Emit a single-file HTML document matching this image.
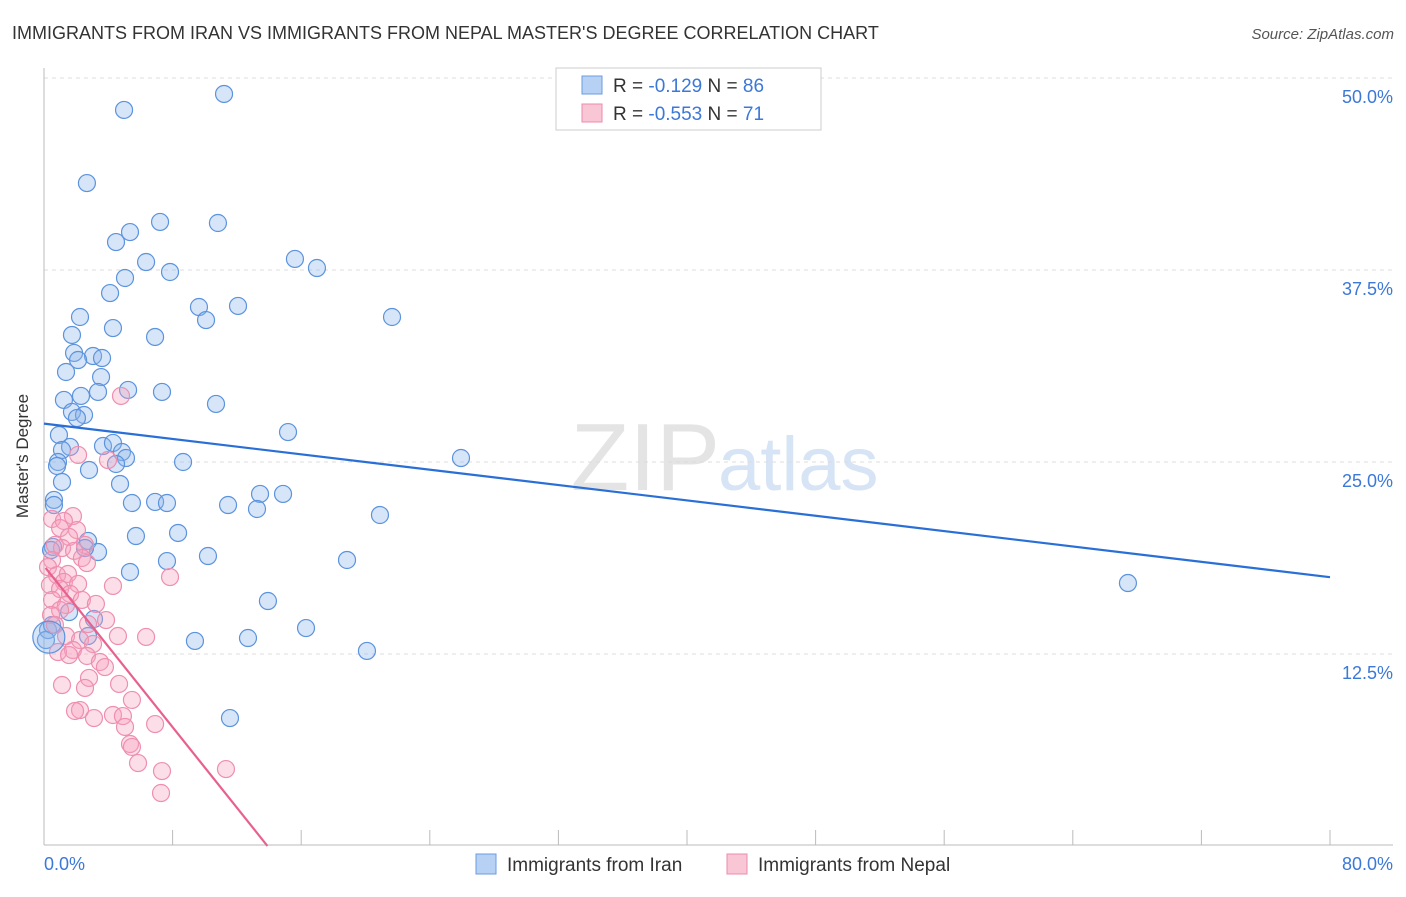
<!DOCTYPE html>
<html><head><meta charset="utf-8"><style>
body{margin:0;background:#fff;font-family:"Liberation Sans",sans-serif}
svg text{font-family:"Liberation Sans",sans-serif}
</style></head><body>
<svg width="1406" height="892" viewBox="0 0 1406 892" xmlns="http://www.w3.org/2000/svg">
<text x="12" y="39" font-size="18" fill="#333">IMMIGRANTS FROM IRAN VS IMMIGRANTS FROM NEPAL MASTER'S DEGREE CORRELATION CHART</text>
<text x="1394" y="39" font-size="15" fill="#555" text-anchor="end" font-style="italic">Source: ZipAtlas.com</text>
<text x="720" y="490" font-size="96" fill="#e4e4e4" text-anchor="end" font-family="Liberation Serif">ZIP</text>
<text x="718" y="490" font-size="76" fill="#d6e4f5">atlas</text>
<g id="grid"></g>
<line x1="44" y1="68" x2="44" y2="845" stroke="#bbb"/>
<line x1="44" y1="845" x2="1393" y2="845" stroke="#bbb"/>
<g id="xticks"></g>
<text x="28" y="456" font-size="17" fill="#333" text-anchor="middle" transform="rotate(-90 28 456)">Master's Degree</text>
<text x="44" y="870" font-size="18" fill="#3b78d8">0.0%</text>
<text x="1393" y="870" font-size="18" fill="#3b78d8" text-anchor="end">80.0%</text>
<g id="pts"></g>
<g id="lines"></g>
<g>
<rect x="556" y="68" width="265" height="62" fill="#fff" stroke="#ccc"/>
<rect x="582" y="76" width="20" height="18" fill="#b7d1f5" stroke="#6a9be0"/>
<rect x="582" y="104" width="20" height="18" fill="#f9c6d6" stroke="#ec8bab"/>
<text x="613" y="92" font-size="19" fill="#333">R = <tspan fill="#3b78d8">-0.129</tspan>   N = <tspan fill="#3b78d8">86</tspan></text>
<text x="613" y="120" font-size="19" fill="#333">R = <tspan fill="#3b78d8">-0.553</tspan>   N = <tspan fill="#3b78d8"> 71</tspan></text>
</g>
<g><rect x="476" y="854" width="20" height="20" fill="#b7d1f5" stroke="#6a9be0"/><text x="507" y="871" font-size="19" fill="#333">Immigrants from Iran</text></g>
<g><rect x="727" y="854" width="20" height="20" fill="#f9c6d6" stroke="#ec8bab"/><text x="758" y="871" font-size="19" fill="#333">Immigrants from Nepal</text></g>
</svg>
<script>
const yTicks=[12.5,25,37.5,50];
const yTickLabels=["12.5%","25.0%","37.5%","50.0%"];
const xTicks=[0,8,16,24,32,40,48,56,64,72,80];
const iranPx=[[124,110],[224,94],[87,183],[160,222],[218,223],[116,242],[130,232],[146,262],[170,272],[125,278],[110,293],[295,259],[317,268],[199,307],[238,306],[206,320],[80,317],[72,335],[113,328],[155,337],[392,317],[74,353],[93,356],[102,358],[78,360],[66,372],[101,377],[81,396],[98,392],[128,390],[162,392],[64,400],[216,404],[72,412],[84,415],[77,418],[288,432],[59,435],[70,447],[62,450],[103,446],[113,443],[122,452],[126,458],[116,464],[461,458],[58,462],[89,470],[183,462],[57,466],[62,482],[120,484],[260,494],[283,494],[54,500],[54,505],[132,503],[155,502],[167,503],[228,505],[257,509],[380,515],[178,533],[136,536],[88,541],[53,547],[51,550],[98,552],[85,548],[208,556],[167,561],[130,572],[347,560],[1128,583],[268,601],[69,612],[306,628],[94,619],[88,636],[195,641],[248,638],[367,651],[230,718],[48,630],[52,625],[46,640]];
const nepalPx=[[121,396],[78,455],[108,460],[52,519],[73,516],[64,521],[60,528],[77,530],[69,537],[55,545],[85,545],[62,548],[74,551],[82,558],[87,563],[52,560],[48,567],[57,575],[68,574],[64,582],[78,584],[50,585],[60,589],[70,594],[113,586],[170,577],[52,600],[82,600],[66,605],[96,604],[60,610],[51,615],[106,620],[55,625],[88,624],[66,636],[118,636],[146,637],[80,640],[93,644],[73,650],[58,652],[69,655],[87,656],[100,662],[105,667],[89,678],[62,685],[119,684],[85,688],[132,700],[80,710],[75,711],[113,715],[123,716],[94,718],[155,724],[125,727],[130,744],[132,747],[138,763],[162,771],[226,769],[161,793]];
// convert to data values (x %, y %)
const iranX=iranPx.map(p=>+((p[0]-44)/1286*80).toFixed(2));
const iranY=iranPx.map(p=>+((846-p[1])/768*50).toFixed(2));
const nepalX=nepalPx.map(p=>+((p[0]-44)/1286*80).toFixed(2));
const nepalY=nepalPx.map(p=>+((846-p[1])/768*50).toFixed(2));
const iranTrend=[27.5,17.5];   // y at x=0 and x=80
const nepalTrend=[18.1,0];     // y at x=0 and x at y=0 => 13.9
const nepalZeroX=13.9;
const X=v=>44+v/80*1286, Y=v=>846-v/50*768;
const NS="http://www.w3.org/2000/svg";
function mk(t,a,p){const e=document.createElementNS(NS,t);for(const k in a)e.setAttribute(k,a[k]);p.appendChild(e);return e;}
const grid=document.getElementById('grid');
yTicks.forEach((t,i)=>{
 const l=mk('line',{x1:44,x2:1393,y1:Y(t),y2:Y(t),stroke:'#ddd','stroke-dasharray':'4,4'},grid);
 
 
 const tx=mk('text',{x:1393,y:Y(t)+25,'font-size':18,fill:'#3b78d8','text-anchor':'end'},grid);
 tx.textContent=yTickLabels[i];
 
 
});
const xt=document.getElementById('xticks');
xTicks.forEach(t=>{
 const l=mk('line',{x1:X(t),x2:X(t),y1:830,y2:845,stroke:'#bbb'},xt);
 
 
});
const pts=document.getElementById('pts');
iranX.forEach((x,i)=>{
 const c=mk('circle',{cx:X(x),cy:Y(iranY[i]),r:8.5,fill:'rgba(140,180,235,0.35)',stroke:'#5b93dd','stroke-width':1.2},pts);
 
 
});
nepalX.forEach((x,i)=>{
 const c=mk('circle',{cx:X(x),cy:Y(nepalY[i]),r:8.5,fill:'rgba(245,160,190,0.35)',stroke:'#ee8fb0','stroke-width':1.2},pts);
 
 
});
const big=mk('circle',{cx:X(0.3),cy:Y(13.6),r:16,fill:'rgba(140,180,235,0.35)',stroke:'#5b93dd','stroke-width':1.2},pts);


const lg=document.getElementById('lines');
const l1=mk('line',{x1:X(0),y1:Y(iranTrend[0]),x2:X(80),y2:Y(iranTrend[1]),stroke:'#2a6fd6','stroke-width':2.2},lg);


const l2=mk('line',{x1:X(0.1),y1:Y(nepalTrend[0]),x2:X(nepalZeroX),y2:Y(nepalTrend[1]),stroke:'#e8608d','stroke-width':2.2},lg);


</script>
</body></html>
